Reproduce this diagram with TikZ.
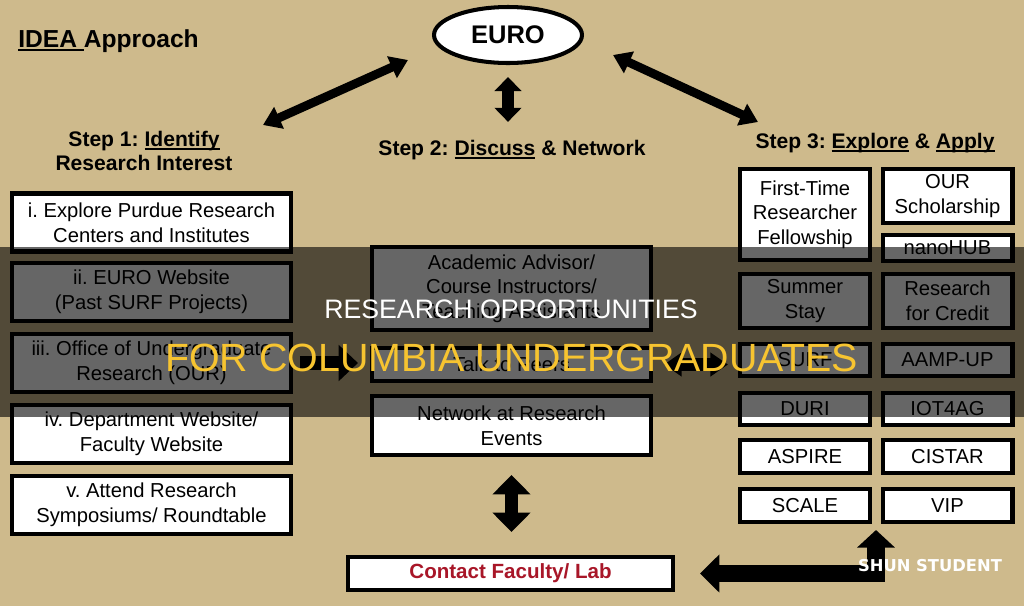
\documentclass[tikz,border=0pt]{standalone}
\usepackage{fontspec}
\setmainfont{Liberation Sans}
\newfontfamily\markfont{DejaVu Sans}
\usetikzlibrary{arrows.meta,shapes.geometric}
\definecolor{sand}{RGB}{206,186,140}
\definecolor{facred}{RGB}{168,22,40}
\definecolor{banner}{RGB}{247,196,48}
\frenchspacing
\newcommand{\ulin}[1]{\setbox0\hbox{#1}\rlap{\rule[-2.2pt]{\wd0}{1.3pt}}\box0\relax}
\tikzset{
  boxed/.style={draw=black,line width=2.3pt,fill=white,inner sep=0pt,align=center,
    font=\fontsize{11.5}{14}\selectfont},
  findbox/.style={boxed,minimum width=5.58cm,minimum height=1.16cm},
  talkbox/.style={boxed,minimum width=5.58cm},
  optbox/.style={boxed,minimum width=2.6cm},
  heading/.style={inner sep=0pt,align=center,font=\fontsize{12}{13.6}\selectfont\bfseries},
  fatboth/.style={line width=5pt,{Triangle[width=13pt,length=10pt]}-{Triangle[width=13pt,length=10pt]}},
  vboth/.style={line width=6.5pt,{Triangle[width=15pt,length=8pt]}-{Triangle[width=15pt,length=8pt]}},
  bigboth/.style={line width=7.5pt,{Triangle[width=21pt,length=11pt]}-{Triangle[width=21pt,length=11pt]}},
  fatone/.style={line width=8pt,-{Triangle[width=20pt,length=11pt]}},
  elbow/.style={line width=10pt,line join=miter,{Triangle[width=21pt,length=11pt]}-{Triangle[width=21pt,length=10pt]}},
}
\begin{document}
\begin{tikzpicture}[x=0.02cm,y=-0.02cm]
  \fill[sand] (0,0) rectangle (1024,606);
  \useasboundingbox (0,0) rectangle (1024,606);
  % title and hub
  \node[anchor=west,inner sep=0pt,font=\fontsize{14}{17}\selectfont\bfseries] (idea) at (18,41) {\ulin{IDEA }Approach};
  \node[draw=black,line width=2.3pt,fill=white,ellipse,inner sep=0pt,minimum width=2.96cm,minimum height=1.12cm,
    font=\fontsize{14.5}{17}\selectfont\bfseries] (euro) at (508,35) {EURO};
  % step headings
  \node[heading] (step1) at (144,151) {Step 1: \ulin{Identify}\\Research Interest};
  \node[heading,anchor=base] (step2) at (512,155) {Step 2: \ulin{Discuss} \& Network};
  \node[heading,anchor=base] (step3) at (875,148) {Step 3: \ulin{Explore} \& \ulin{Apply}};
  % step 1 column
  \node[findbox] (find1) at (151.5,222.5) {i. Explore Purdue Research\\Centers and Institutes};
  \node[findbox] (find2) at (151.5,292) {ii. EURO Website\\(Past SURF Projects)};
  \node[findbox] (find3) at (151.5,363) {iii. Office of Undergraduate\\Research (OUR)};
  \node[findbox] (find4) at (151.5,434) {iv. Department Website/\\Faculty Website};
  \node[findbox] (find5) at (151.5,505) {v. Attend Research\\Symposiums/ Roundtable};
  % step 2 column
  \node[talkbox,minimum height=1.66cm] (advisor) at (511.5,288.5) {Academic Advisor/\\Course Instructors/\\Teaching Assistants};
  \node[talkbox,minimum height=0.66cm] (peers) at (511.5,364.5) {Talk to Peers};
  \node[talkbox,minimum height=1.18cm] (network) at (511.5,425.5) {Network at Research\\Events};
  % step 3 options
  \node[optbox,minimum height=1.82cm] (fellow) at (805,214.5) {First-Time\\Researcher\\Fellowship};
  \node[optbox,minimum height=1.08cm] (scholar) at (947.5,196) {OUR\\Scholarship};
  \node[optbox,minimum height=0.52cm] (nanohub) at (947.5,248) {nanoHUB};
  \node[optbox,minimum height=1.08cm] (summer) at (805,301) {Summer\\Stay};
  \node[optbox,minimum height=1.08cm] (credit) at (947.5,301) {Research\\for Credit};
  \node[optbox,minimum height=0.64cm] (surf) at (805,360) {SURF};
  \node[optbox,minimum height=0.64cm] (aamp) at (947.5,360) {AAMP-UP};
  \node[optbox,minimum height=0.64cm] (duri) at (805,409) {DURI};
  \node[optbox,minimum height=0.64cm] (iot) at (947.5,409) {IOT4AG};
  \node[optbox,minimum height=0.66cm] (aspire) at (805,456.5) {ASPIRE};
  \node[optbox,minimum height=0.66cm] (cistar) at (947.5,456.5) {CISTAR};
  \node[optbox,minimum height=0.66cm] (scale) at (805,505.5) {SCALE};
  \node[optbox,minimum height=0.66cm] (vip) at (947.5,505.5) {VIP};
  \node[boxed,minimum width=6.5cm,minimum height=0.66cm,text=facred,font=\fontsize{11.7}{14}\selectfont\bfseries]
    (contact) at (510.5,573.5) {Contact Faculty/ Lab};
  % arrows
  \coordinate (leftend) at (263,125);
  \coordinate (leftup) at (408,60);
  \coordinate (rightup) at (613,55);
  \coordinate (rightend) at (758,122);
  \coordinate (gap) at (876,524);
  \draw[fatboth] (leftend) -- (leftup);
  \draw[fatboth] (rightup) -- (rightend);
  \draw[vboth,shorten <=0.24cm,shorten >=0.35cm] (euro.south) -- (euro.south |- step2.north);
  \draw[bigboth,shorten <=0.36cm,shorten >=0.46cm] (network.south) -- (network.south |- contact.north);
  \draw[fatone,shorten <=0.14cm,shorten >=0.24cm] (find3.east) -- (find3.east -| peers.west);
  \draw[fatboth,line width=7pt,shorten <=0.22cm,shorten >=0.2cm] (peers.east) -- (peers.east -| surf.west);
  \draw[elbow,shorten <=0.5cm,shorten >=0.12cm] (contact.east) -- (contact.east -| gap) -- (gap);
  % banner over the middle
  \fill[black,opacity=0.6] (0,247) rectangle (1024,417);
  \node[text=white,inner sep=0pt,font=\fontsize{15.2}{18}\selectfont] (title) at (511,309.5) {RESEARCH OPPORTUNITIES};
  \node[text=banner,inner sep=0pt,font=\fontsize{22.4}{26}\selectfont] (subtitle) at (511.5,357.5) {FOR COLUMBIA UNDERGRADUATES};
  \node[text=white,inner sep=0pt,font=\markfont\bfseries\fontsize{9.3}{11}\selectfont] (mark) at (930,565.5) {SHUN STUDENT};
\end{tikzpicture}
\end{document}
